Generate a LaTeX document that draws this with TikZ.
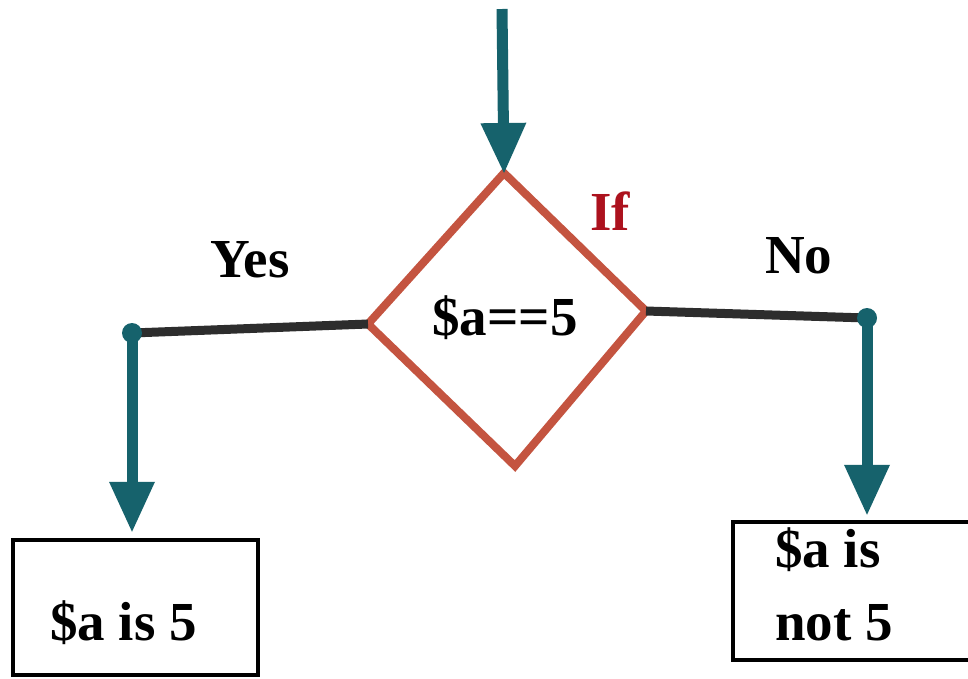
\documentclass[tikz,border=0pt]{standalone}
\usepackage{fontspec}
\setmainfont{Liberation Serif}
\usetikzlibrary{arrows.meta}
\definecolor{flowteal}{RGB}{22,98,108}
\definecolor{diared}{RGB}{196,84,64}
\definecolor{ifred}{RGB}{172,18,30}
\definecolor{linegray}{RGB}{45,45,45}
\tikzset{
  lbl/.style={inner sep=0pt, font=\fontsize{55}{60}\selectfont\bfseries, text=black},
  tealarrow/.style={flowteal, line width=11pt, -{Triangle[length=50pt,width=46pt,line width=0pt]}},
  graylink/.style={linegray, line width=9pt},
  outbox/.style={draw=black, line width=4.5pt, inner sep=0pt},
  dotmark/.style={fill=flowteal}
}
\begin{document}
\begin{tikzpicture}[x=1pt,y=-1pt]
\useasboundingbox (0,0) rectangle (968,678);
\clip (0,0) rectangle (968,678);
\fill[white] (0,0) rectangle (968,678);
% diamond
\coordinate (top) at (502,9);
\coordinate (dT) at (504,173);
\coordinate (dL) at (368,324);
\coordinate (dR) at (646,311);
\coordinate (dB) at (515,466);
\draw[diared, line width=8pt, line join=miter] (dT) -- (dR) -- (dB) -- (dL) -- cycle;
\node[lbl, anchor=base] (cond) at (505,335) {\$a==5};
\node[lbl, anchor=base west, text=ifred] (iflbl) at (590,230) {If};
% incoming arrow
\draw[tealarrow] (top) -- (dT);
% yes branch
\coordinate (yesdot) at (132,333);
\node[outbox, minimum width=245pt, minimum height=135pt] (ybox) at (135.5,607.5) {};
\draw[graylink] (dL) -- (yesdot);
\draw[tealarrow, shorten >=6pt] (yesdot) -- (yesdot |- ybox.north);
\fill[dotmark] (yesdot) circle (10);
\node[lbl, anchor=base west] (yeslbl) at (210,277) {Yes};
\node[lbl, anchor=base west] (ytext) at (50,640) {\$a is 5};
% no branch
\coordinate (nodot) at (867,318);
\node[outbox, minimum width=260pt, minimum height=138pt] (nbox) at (863,591) {};
\draw[graylink] (dR) -- (nodot);
\draw[tealarrow, shorten >=5pt] (nodot) -- (nodot |- nbox.north);
\fill[dotmark] (nodot) circle (10);
\node[lbl, anchor=base west] (nolbl) at (765,273) {No};
\node[lbl, anchor=base west] (ntext1) at (775,567) {\$a is};
\node[lbl, anchor=base west] (ntext2) at (775,640) {not 5};
\end{tikzpicture}
\end{document}
